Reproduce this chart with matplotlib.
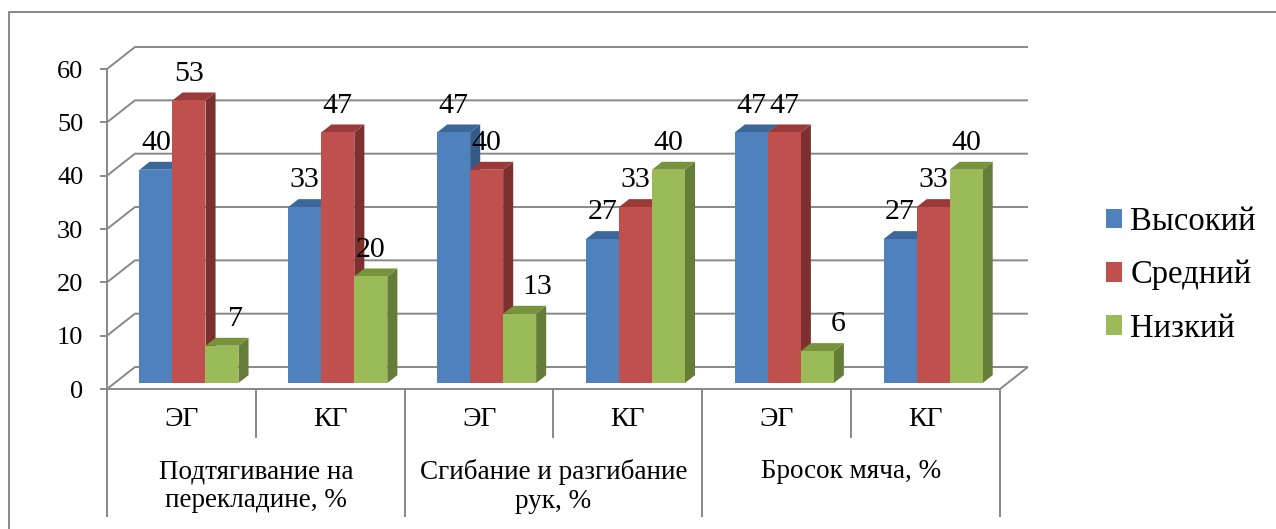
import matplotlib.pyplot as plt
from matplotlib.patches import Polygon, Patch

plt.rcParams['font.family'] = ['Liberation Serif', 'DejaVu Serif']

# data
groups = ["Подтягивание на\nперекладине, %", "Сгибание и разгибание\nрук, %", "Бросок мяча, %"]
subcats = ["ЭГ", "КГ", "ЭГ", "КГ", "ЭГ", "КГ"]
series = ["Высокий", "Средний", "Низкий"]
high = [40, 33, 47, 27, 47, 27]
mid = [53, 47, 40, 33, 47, 33]
low = [7, 20, 13, 40, 6, 40]
yticks = [0, 10, 20, 30, 40, 50, 60]

front_c = ["#4F81BD", "#C0504D", "#9BBB59"]
top_c = ["#3C6799", "#9A3B39", "#77933C"]
side_c = ["#345A87", "#7E302F", "#657D37"]
grid_c = "#888888"

# Excel-like oblique depth (in data units)
DX, DY = 0.188, 4.125
d0, d1 = 0.27, 0.63
w = 0.2217
# nudges of a few labels, the way Excel moved them
nudge = {(0, 2): 0.094, (2, 2): 0.121, (4, 2): 0.141}

W, H = 1276, 529
fig = plt.figure(figsize=(W / 100, H / 100), dpi=100)
ax = fig.add_axes([107 / W, (H - 389) / H, 893 / W, 320 / H])
ax.set_xlim(0, 6)
ax.set_ylim(0, 60)
for s in ax.spines.values():
    s.set_visible(False)
ax.set_xticks([])
ax.set_yticks(yticks)
ax.tick_params(axis='y', direction='out', length=5, width=1.4, color=grid_c,
               labelsize=19, pad=12)
ax.patch.set_alpha(0)

lk = dict(color=grid_c, lw=1.4, clip_on=False, solid_capstyle='butt')

# back wall / side wall gridlines
for v in yticks:
    ax.plot([0, DX, 6 + DX], [v, v + DY, v + DY], zorder=1, **lk)
# floor front and right edges
ax.plot([0, 6, 6 + DX], [0, 0, DY], zorder=1, **lk)
# front value axis, continues through the category area
ax.plot([0, 0], [-24, 60], zorder=1, **lk)

# category separators
for i in range(1, 6):
    bottom = -24 if i % 2 == 0 else -9.2
    ax.plot([i, i], [bottom, 0], zorder=1, **lk)
ax.plot([6, 6], [-24, 0], zorder=1, **lk)

# bars
data = [high, mid, low]
for i in range(6):
    cx = i + 0.5 + d0 * DX
    yb = d0 * DY
    ddx, ddy = (d1 - d0) * DX, (d1 - d0) * DY
    for j in range(3):
        v = data[j][i]
        xl = cx - 1.5 * w + j * w
        yt = yb + v
        z = 3 + i * 3 + j
        ax.add_patch(Polygon([(xl + w, yb), (xl + w + ddx, yb + ddy), (xl + w + ddx, yt + ddy), (xl + w, yt)],
                             closed=True, facecolor=side_c[j], edgecolor='none', zorder=z, clip_on=False))
        ax.add_patch(Polygon([(xl, yt), (xl + w, yt), (xl + w + ddx, yt + ddy), (xl + ddx, yt + ddy)],
                             closed=True, facecolor=top_c[j], edgecolor='none', zorder=z, clip_on=False))
        ax.bar(xl, v, bottom=yb, width=w, align='edge', color=front_c[j], zorder=z + 0.5, clip_on=False)
        ax.text(xl + w / 2 + nudge.get((i, j), 0), yt + 5.0, str(v), ha='center', va='center',
                fontsize=21.5, zorder=40, clip_on=False)

# category labels
for i, lab in enumerate(subcats):
    ax.text(i + 0.5, -5.8, lab, ha='center', va='center', fontsize=20, clip_on=False)
for g, lab in enumerate(groups):
    ax.text(2 * g + 1, -13.2, lab, ha='center', va='top', fontsize=19.5, linespacing=1.17, clip_on=False)

# legend
handles = [Patch(facecolor=front_c[j], edgecolor='none') for j in range(3)]
fig.legend(handles, series, loc='center left', bbox_to_anchor=(1106 / W, (H - 275) / H),
           frameon=False, fontsize=23.5, handlelength=0.49, handleheight=0.55, handletextpad=0.25,
           labelspacing=0.7, borderpad=0, borderaxespad=0)

# outer chart border
fig.add_artist(plt.Line2D([9 / W, 9 / W, 1], [0, (H - 12) / H, (H - 12) / H],
                          transform=fig.transFigure, color=grid_c, lw=1.4))

fig.savefig("out.png", dpi=100)
